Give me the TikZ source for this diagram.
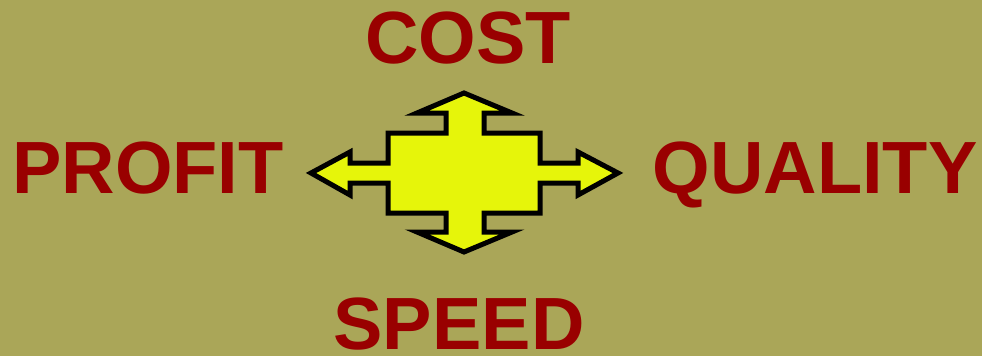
\documentclass[tikz,border=0pt]{standalone}
\usepackage{fontspec}
\setmainfont{Liberation Sans}
\usetikzlibrary{positioning}
\definecolor{olive}  {RGB}{170,166,88}
\definecolor{darkred}{RGB}{153,0,0}
\definecolor{lemon}  {RGB}{230,245,10}

\begin{document}
\begin{tikzpicture}[x=1pt,y=-1pt,
    word/.style={text=darkred,font=\fontsize{74}{74}\selectfont\bfseries,
                 inner sep=0pt,anchor=base}]
  \fill[olive] (0,0) rectangle (982,356);
  \useasboundingbox (0,0) rectangle (982,356);
  % four-way arrow
  \draw[fill=lemon,line width=5pt,line join=miter]
    (464,93) -- (512,113) -- (484,113) -- (484,133) -- (540,133) -- (540,163)
    -- (578,163) -- (578,152) -- (618,173) -- (578,195) -- (578,183)
    -- (540,183) -- (540,213) -- (484,213) -- (484,232) -- (512,232)
    -- (464,252) -- (417,232) -- (446,232) -- (446,213) -- (388,213)
    -- (388,183) -- (350,183) -- (350,195) -- (311,173) -- (350,152)
    -- (350,163) -- (388,163) -- (388,133) -- (446,133) -- (446,113)
    -- (417,113) -- cycle;
  \node[word] (cost)    at (468,63)  {COST};
  \node[word] (profit)  at (148,193) {PROFIT};
  \node[word] (quality) at (815,193) {QUALITY};
  \node[word] (speed)   at (459,349) {SPEED};
\end{tikzpicture}
\end{document}
